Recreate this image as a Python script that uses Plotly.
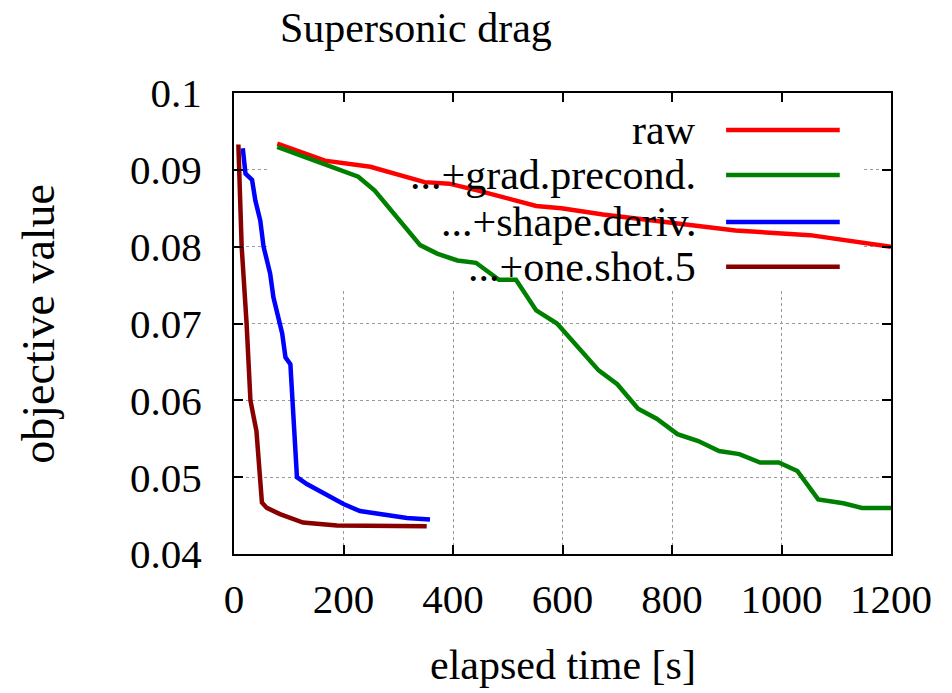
import plotly.graph_objects as go

# ---- data ----
raw_t = [79, 166, 249, 348, 393, 446, 552, 598, 674, 787, 916, 1052, 1200]
raw_y = [0.0934, 0.0912, 0.0904, 0.0884, 0.0882, 0.0873, 0.0853, 0.0850, 0.0842, 0.0832, 0.0821, 0.0815, 0.0800]

grad_t = [79, 189, 227, 257, 302, 340, 371, 408, 442, 484, 515, 552, 590, 628, 666, 700, 738, 772,
          810, 848, 886, 923, 961, 995, 1029, 1067, 1113, 1147, 1200]
grad_y = [0.0930, 0.0900, 0.0891, 0.0873, 0.0834, 0.0802, 0.0791, 0.0782, 0.0779, 0.0757, 0.0757,
          0.0717, 0.0700, 0.0669, 0.0639, 0.0621, 0.0589, 0.0576, 0.0556, 0.0547, 0.0534, 0.0530,
          0.0519, 0.0519, 0.0508, 0.0471, 0.0466, 0.0460, 0.0460]

shape_t = [16, 21, 33, 39, 48, 54, 66, 72, 88, 94, 103, 115, 133, 151, 176, 200, 230, 267, 316, 358]
shape_y = [0.0928, 0.0895, 0.0887, 0.0860, 0.0834, 0.0800, 0.0765, 0.0734, 0.0687, 0.0656, 0.0647,
           0.0500, 0.0491, 0.0484, 0.0473, 0.0465, 0.0456, 0.0452, 0.0447, 0.0445]

oneshot_t = [8, 14, 23, 30, 36, 41, 51, 60, 84, 126, 188, 260, 352]
oneshot_y = [0.0933, 0.0800, 0.0700, 0.0600, 0.0578, 0.0560, 0.0467, 0.0460, 0.0452, 0.0441,
             0.0437, 0.0436, 0.0436]

series_names = ["raw", "...+grad.precond.", "...+shape.deriv.", "...+one.shot.5"]
series_colors = ["#ff0000", "#008000", "#0000ff", "#880000"]
x_ticks = [0, 200, 400, 600, 800, 1000, 1200]
y_ticks = [0.04, 0.05, 0.06, 0.07, 0.08, 0.09, 0.1]
y_tick_labels = ["0.04", "0.05", "0.06", "0.07", "0.08", "0.09", "0.1"]

FONT = "'Liberation Serif', 'Times New Roman', Times, 'DejaVu Serif', serif"

fig = go.Figure()
data = [(raw_t, raw_y), (grad_t, grad_y), (shape_t, shape_y), (oneshot_t, oneshot_y)]
for (t, y), name, col in zip(data, series_names, series_colors):
    fig.add_trace(go.Scatter(x=t, y=y, mode="lines", name=name,
                             line=dict(color=col, width=4.5), showlegend=False))

# legend drawn manually (text left, line sample right, as in gnuplot)
leg_y = [0.920, 0.822, 0.720, 0.623]
shapes = [
    # opaque key area hiding grid lines
    dict(type="rect", xref="x", yref="y", x0=63, x1=1150, y0=0.0743, y1=0.1,
         fillcolor="white", line=dict(width=0), layer="between"),
]
annotations = []
for name, col, ly in zip(series_names, series_colors, leg_y):
    annotations.append(dict(text=name, xref="paper", yref="paper", x=0.706, y=ly,
                            xanchor="right", yanchor="middle", showarrow=False,
                            font=dict(family=FONT, size=42, color="black")))
    shapes.append(dict(type="line", xref="paper", yref="paper", x0=0.749, x1=0.922,
                       y0=ly, y1=ly, line=dict(color=col, width=4.5)))

annotations.append(dict(text="Supersonic drag", xref="paper", yref="paper", x=0.277, y=1.0,
                        yshift=65, xanchor="center", yanchor="middle", showarrow=False,
                        font=dict(family=FONT, size=42, color="black")))
annotations.append(dict(text="elapsed time [s]", xref="paper", yref="paper", x=0.5, y=-0.241,
                        xanchor="center", yanchor="middle", showarrow=False,
                        font=dict(family=FONT, size=42, color="black")))
annotations.append(dict(text="objective value", xref="paper", yref="paper", x=-0.298, y=0.5,
                        xanchor="center", yanchor="middle", showarrow=False, textangle=-90,
                        font=dict(family=FONT, size=46, color="black")))

fig.update_layout(
    width=952, height=693,
    margin=dict(l=234, r=61, t=93, b=139),
    paper_bgcolor="white", plot_bgcolor="white",
    font=dict(family=FONT, size=41, color="black"),
    shapes=shapes, annotations=annotations,
)
fig.update_xaxes(range=[0, 1200], tickvals=x_ticks, ticks="inside", ticklen=9, tickwidth=2,
                 tickcolor="black", showline=True, linecolor="black", linewidth=2, mirror="ticks",
                 showgrid=True, gridcolor="#9a9a9a", griddash="dot", gridwidth=1,
                 zeroline=False, ticklabelstandoff=8,
                 tickfont=dict(family=FONT, size=41, color="black"))
fig.update_yaxes(range=[0.04, 0.1], tickvals=y_ticks, ticktext=y_tick_labels, ticks="inside",
                 ticklen=9, tickwidth=2, tickcolor="black", showline=True, linecolor="black",
                 linewidth=2, mirror="ticks", showgrid=True, gridcolor="#9a9a9a", griddash="dot",
                 gridwidth=1, zeroline=False, ticklabelstandoff=22,
                 tickfont=dict(family=FONT, size=41, color="black"))

fig.write_html("out.html")
